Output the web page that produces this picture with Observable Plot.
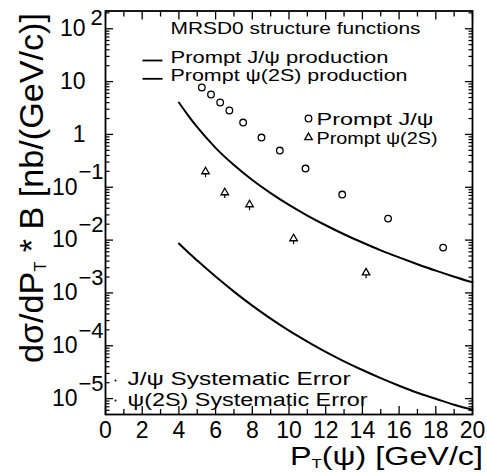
<!DOCTYPE html>
<html><head><meta charset="utf-8">
<script src="https://cdn.jsdelivr.net/npm/d3@7"></script>
<script src="https://cdn.jsdelivr.net/npm/@observablehq/plot@0.6"></script>
<style>
html,body{margin:0;padding:0;background:#fff;}
#chart svg{display:block;}
</style>
</head><body><div id="chart"></div>
<script>
// ---- data ----
const jpsiPt  = [5.25, 5.75, 6.25, 6.75, 7.5, 8.5, 9.5, 10.9, 12.9, 15.4, 18.4];
const jpsiVal = [7.73, 5.70, 4.02, 2.84, 1.68, 0.873, 0.495, 0.226, 0.0728, 0.0255, 0.00721];
const psi2sPt  = [5.45, 6.5, 7.85, 10.25, 14.2];
const psi2sVal = [0.198, 0.0794, 0.047, 0.0107, 0.00242];
const psi2sErrLow = [0.152, 0.061, 0.036, 0.0082, 0.00186];
const theoryPt    = [4, 4.5, 5, 6, 7, 8, 9, 10, 11, 12, 13, 14, 15, 16, 17, 18, 19, 20];
const theoryJpsi  = [4.02, 2.3, 1.37, 0.557, 0.263, 0.137, 0.0776, 0.0464, 0.0292, 0.0191, 0.0129, 0.0090, 0.0064, 0.0047, 0.0035, 0.00264, 0.00203, 0.00159];
const theoryPsi2s = [0.00859, 0.00587, 0.00409, 0.00204, 0.00106, 0.000574, 0.000326, 0.000193, 0.00012, 7.66e-5, 5.08e-5, 3.48e-5, 2.44e-5, 1.75e-5, 1.29e-5, 9.95e-6, 7.66e-6, 6.17e-6];

const xMajorTicks = [0, 2, 4, 6, 8, 10, 12, 14, 16, 18, 20];
const xMinorTicks = [1, 3, 5, 7, 9, 11, 13, 15, 17, 19];
const yMajorTicks = [1e-5, 1e-4, 1e-3, 1e-2, 1e-1, 1, 10, 100];
const yLabelValues = [100, 10, 1, 0.1, 0.01, 0.001, 1e-4, 1e-5];
const yLabelBase   = ["10", "10", "1", "10", "10", "10", "10", "10"];
const yLabelExp    = ["2", "", "", "−1", "−2", "−3", "−4", "−5"];

const legendHeader = "MRSD0 structure functions";
const legendCurves = ["Prompt J/ψ production", "Prompt ψ(2S) production"];
const legendData   = ["Prompt J/ψ", "Prompt ψ(2S)"];
const legendSyst   = ["J/ψ Systematic Error", "ψ(2S) Systematic Error"];

// ---- tables built from the arrays ----
const jpsi = jpsiPt.map((x, i) => ({x, y: jpsiVal[i]}));
const psi2s = psi2sPt.map((x, i) => ({x, y: psi2sVal[i], lo: psi2sErrLow[i]}));
const thJ = theoryPt.map((x, i) => ({x, y: theoryJpsi[i]}));
const thP = theoryPt.map((x, i) => ({x, y: theoryPsi2s[i]}));
const yMinorTicks = [];
for (let e = -6; e <= 2; e++) for (let k = 2; k <= 9; k++) {
  const v = k * Math.pow(10, e);
  if (v > 5.01e-6 && v < 217) yMinorTicks.push(v);
}
const yLabels = yLabelValues.map((v, i) => ({v, base: yLabelBase[i], exp: yLabelExp[i]}));
const plainLabels = yLabels.filter(d => d.exp === "");
const negLabels = yLabels.filter(d => d.exp.startsWith("−"));
const posLabels = yLabels.filter(d => d.exp !== "" && !d.exp.startsWith("−"));

const lineSymbol = {draw(ctx, size) { const r = Math.sqrt(size / Math.PI); ctx.moveTo(-r, 0); ctx.lineTo(r, 0); }};
const none = () => "";

// legend layout (pixel offsets from the frame's top-left corner)
const L = {left: 105, top: 10.5};
const legText = (t, px, py, fs, tag) => Plot.text([t], {frameAnchor: "top-left", dx: px - L.left, dy: py - L.top,
  lineAnchor: "bottom", textAnchor: "start", fontSize: fs, ariaDescription: tag});
const legSym = (px, py, opts) => Plot.dot([0], {frameAnchor: "top-left", dx: px - L.left, dy: py - L.top, ...opts});

const chart = Plot.plot({
  width: 487, height: 472,
  marginLeft: 105, marginRight: 15, marginTop: 10.5, marginBottom: 58,
  x: {domain: [0, 20], axis: null},
  y: {type: "log", domain: [5e-6, 217], axis: null},
  style: {fontFamily: "'Liberation Sans', Arial, sans-serif", background: "white", color: "black"},
  marks: [
    // ticks (inward) on all four sides
    Plot.axisX(xMajorTicks, {anchor: "bottom", tickSize: -8, tickFormat: none, label: null, strokeWidth: 1.3}),
    Plot.axisX(xMinorTicks, {anchor: "bottom", tickSize: -5, tickFormat: none, label: null, strokeWidth: 1.3}),
    Plot.axisX(xMajorTicks, {anchor: "top", tickSize: -8, tickFormat: none, label: null, strokeWidth: 1.3}),
    Plot.axisX(xMinorTicks, {anchor: "top", tickSize: -5, tickFormat: none, label: null, strokeWidth: 1.3}),
    Plot.axisY(yMajorTicks, {anchor: "left", tickSize: -8, tickFormat: none, label: null, strokeWidth: 1.3}),
    Plot.axisY(yMinorTicks, {anchor: "left", tickSize: -4.5, tickFormat: none, label: null, strokeWidth: 1.2}),
    Plot.axisY(yMajorTicks, {anchor: "right", tickSize: -8, tickFormat: none, label: null, strokeWidth: 1.3}),
    Plot.axisY(yMinorTicks, {anchor: "right", tickSize: -4.5, tickFormat: none, label: null, strokeWidth: 1.2}),
    // x tick labels
    Plot.axisX(xMajorTicks, {anchor: "bottom", tickSize: 0, tickPadding: 7, fontSize: 23, label: null}),
    // y tick labels
    Plot.text(plainLabels, {y: "v", text: "base", frameAnchor: "left", dx: -20, textAnchor: "end", fontSize: 23}),
    Plot.text(posLabels, {y: "v", text: "base", frameAnchor: "left", dx: -20, textAnchor: "end", fontSize: 23}),
    Plot.text(posLabels, {y: "v", text: "exp", frameAnchor: "left", dx: -15, dy: -11, textAnchor: "start", fontSize: 22}),
    Plot.text(negLabels, {y: "v", text: "base", frameAnchor: "left", dx: -28, textAnchor: "end", fontSize: 23}),
    Plot.text(negLabels, {y: "v", text: "exp", frameAnchor: "left", dx: -27, dy: -15, textAnchor: "start", fontSize: 22}),
    // theory curves
    Plot.line(thJ, {x: "x", y: "y", curve: "monotone-x", strokeWidth: 2}),
    Plot.line(thP, {x: "x", y: "y", curve: "monotone-x", strokeWidth: 2}),
    // data
    Plot.ruleX(psi2s, {x: "x", y1: "lo", y2: "y", strokeWidth: 1.2}),
    Plot.dot(jpsi, {x: "x", y: "y", r: 3.3, stroke: "black", fill: "none", strokeWidth: 1.3}),
    Plot.dot(psi2s, {x: "x", y: "y", r: 2.8, symbol: "triangle", stroke: "black", fill: "white", strokeWidth: 1.3}),
    // legend: theory curves
    legText(legendHeader, 170, 33.3, 16.5, "leg-head"),
    legSym(152, 60, {symbol: lineSymbol, r: 10, stroke: "black", strokeWidth: 1.8}),
    legSym(152, 78.3, {symbol: lineSymbol, r: 10, stroke: "black", strokeWidth: 1.8}),
    legText(legendCurves[0], 170, 62, 16.5, "leg-c0"),
    legText(legendCurves[1], 170, 80.3, 16.5, "leg-c1"),
    // legend: data
    legSym(308, 118, {r: 3.3, stroke: "black", fill: "none", strokeWidth: 1.3}),
    legSym(308, 137, {r: 2.8, symbol: "triangle", stroke: "black", fill: "none", strokeWidth: 1.3}),
    legText(legendData[0], 316, 124.5, 16.5, "leg-d0"),
    legText(legendData[1], 316, 143.5, 16.5, "leg-d1"),
    // legend: systematic errors
    legSym(115, 380, {r: 1, fill: "black"}),
    legSym(115, 400, {r: 1, fill: "black"}),
    legText(legendSyst[0], 127, 384.5, 18, "leg-s0"),
    legText(legendSyst[1], 127, 405, 18, "leg-s1"),
    Plot.frame({strokeWidth: 1.8})
  ]
});
document.getElementById("chart").appendChild(chart);

// ---- ROOT-like wide legend text ----
const svg = d3.select(chart);
const widths = {"leg-head": 250, "leg-c0": 218, "leg-c1": 237, "leg-d0": 117, "leg-d1": 121, "leg-s0": 223, "leg-s1": 240};
for (const [tag, w] of Object.entries(widths)) {
  svg.selectAll(`g[aria-description="${tag}"] text`).attr("textLength", w).attr("lengthAdjust", "spacingAndGlyphs");
}

// axis titles
const font = "'Liberation Sans', Arial, sans-serif";
const xt = svg.append("text").attr("x", 290).attr("y", 465).attr("text-anchor", "start")
  .attr("font-family", font).attr("font-size", 25).attr("fill", "black");
xt.append("tspan").text("P");
xt.append("tspan").attr("font-size", 13).attr("dy", 3).text("T");
xt.append("tspan").attr("dy", -3).text("(ψ) [GeV/c]");
xt.attr("textLength", 193).attr("lengthAdjust", "spacingAndGlyphs");

const yt = svg.append("text").attr("transform", "translate(43,363) rotate(-90)").attr("text-anchor", "start")
  .attr("font-family", font).attr("font-size", 34).attr("fill", "black");
yt.append("tspan").text("dσ/dP");
yt.append("tspan").attr("font-size", 16).attr("dy", 3).text("T");
yt.append("tspan").attr("dy", -3).text(" * B [nb/(GeV/c)]");
yt.attr("textLength", 350).attr("lengthAdjust", "spacingAndGlyphs");
</script>
</body></html>
